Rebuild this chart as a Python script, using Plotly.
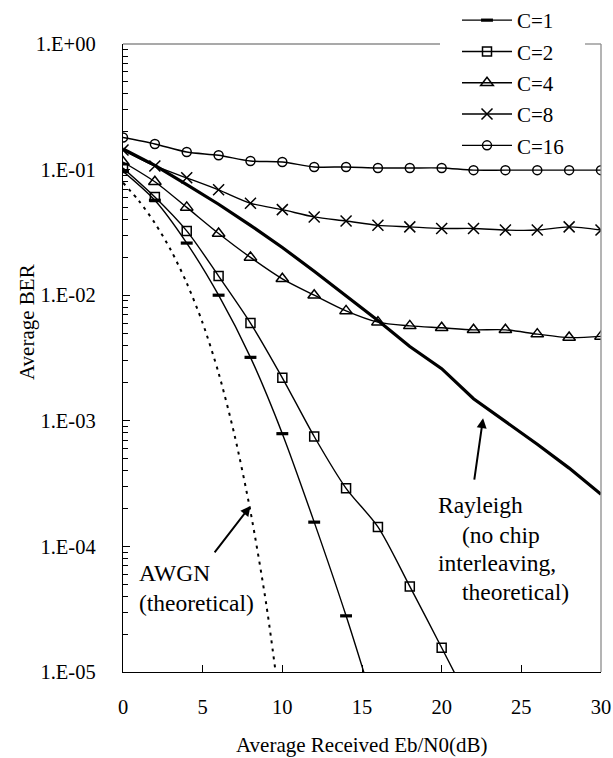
import math
import plotly.graph_objects as go

# ---------------- data ----------------
ebn0 = [0, 2, 4, 6, 8, 10, 12, 14, 16, 18, 20, 22, 24, 26, 28, 30]

c1_x = [0, 2, 4, 6, 8, 10, 12, 14, 16]
c1_ber = [0.097, 0.057, 0.026, 0.010, 0.0032, 7.9e-4, 1.56e-4, 2.8e-5, 4.3e-6]

c2_x = [0, 2, 4, 6, 8, 10, 12, 14, 16, 18, 20, 22]
c2_ber = [0.103, 0.0605, 0.0325, 0.0142, 0.0060, 0.0022, 7.5e-4, 2.9e-4,
          1.43e-4, 4.8e-5, 1.56e-5, 5.0e-6]

c4_ber = [0.115, 0.080, 0.050, 0.031, 0.020, 0.0135, 0.010, 0.0075, 0.0061,
          0.0057, 0.0055, 0.0053, 0.0053, 0.0049, 0.0046, 0.0047]

c8_ber = [0.143, 0.107, 0.086, 0.069, 0.054, 0.048, 0.042, 0.039, 0.036,
          0.035, 0.034, 0.034, 0.033, 0.033, 0.035, 0.033]

c16_ber = [0.180, 0.160, 0.138, 0.130, 0.117, 0.115, 0.105, 0.105, 0.103,
           0.103, 0.103, 0.099, 0.099, 0.099, 0.099, 0.099]

ray_x = [0, 2, 4, 6, 8, 10, 12, 14, 16, 18, 19, 20, 22, 24, 26, 28, 30]
ray_ber = [0.146, 0.108, 0.076, 0.053, 0.036, 0.024, 0.0155, 0.0098, 0.0063,
           0.0039, 0.0032, 0.0026, 0.0015, 9.9e-4, 6.5e-4, 4.2e-4, 2.6e-4]

awgn_x = [0, 1, 2, 3, 4, 5, 6, 7, 8, 9, 10]
awgn_ber = [0.0786, 0.0563, 0.0375, 0.0229, 0.0125, 0.0060, 0.0024, 7.7e-4,
            1.9e-4, 3.4e-5, 3.9e-6]

ytick_vals = [1, 1e-1, 1e-2, 1e-3, 1e-4, 1e-5]
ytick_text = ["1.E+00", "1.E-01", "1.E-02", "1.E-03", "1.E-04", "1.E-05"]
xtick_vals = [0, 5, 10, 15, 20, 25, 30]

# annotation anchors (data units)
awgn_tip = (8.0, 2.1e-4)
ray_tip = (22.6, 1.05e-3)

FONT = "'Liberation Serif', 'Times New Roman', serif"
W, H = 613, 758
X0, X1, Y0, Y1 = 123, 601, 44, 672  # plot area in page pixels
L, R, T, B = X0, W - X1, Y0, H - Y1
PW, PH = X1 - X0, Y1 - Y0


def px(x):
    return (x - X0) / PW


def py(y):
    return (Y1 - y) / PH


fig = go.Figure()

line_thin = dict(color="black", width=1.4, shape="spline", smoothing=0.8)
mline = dict(color="black", width=1.5)

fig.add_trace(go.Scatter(x=awgn_x, y=awgn_ber, mode="lines", showlegend=False,
                         line=dict(color="black", width=2, dash="3px,5px",
                                   shape="spline", smoothing=0.8)))
fig.add_trace(go.Scatter(x=ray_x, y=ray_ber, mode="lines", showlegend=False,
                         line=dict(color="black", width=3.2)))

fig.add_trace(go.Scatter(x=c1_x, y=c1_ber, mode="lines+markers", name="C=1",
                         line=line_thin, legendgroup="1",
                         marker=dict(symbol="line-ew-open", size=8.5,
                                     line=dict(color="black", width=3.2))))
fig.add_trace(go.Scatter(x=c2_x, y=c2_ber, mode="lines+markers", name="C=2",
                         line=line_thin, legendgroup="2",
                         marker=dict(symbol="square-open", size=9, color="black",
                                     line=mline)))
fig.add_trace(go.Scatter(x=ebn0, y=c4_ber, mode="lines+markers", name="C=4",
                         line=line_thin, legendgroup="4",
                         marker=dict(symbol="triangle-up-open", size=11, color="black",
                                     line=mline)))
fig.add_trace(go.Scatter(x=ebn0, y=c8_ber, mode="lines+markers", name="C=8",
                         line=line_thin, legendgroup="8",
                         marker=dict(symbol="x-thin-open", size=11, color="black",
                                     line=mline)))
fig.add_trace(go.Scatter(x=ebn0, y=c16_ber, mode="lines+markers", name="C=16",
                         line=line_thin, legendgroup="16",
                         marker=dict(symbol="circle-open", size=9, color="black",
                                     line=mline)))

ann = []
# axis titles
ann.append(dict(text="Average Received Eb/N0(dB)", x=px(362), y=py(745),
                xref="paper", yref="paper", showarrow=False,
                xanchor="center", yanchor="middle", font=dict(size=21)))
ann.append(dict(text="Average BER", x=px(27), y=py(322), xref="paper", yref="paper",
                showarrow=False, textangle=-90, xanchor="center", yanchor="middle",
                font=dict(size=21)))
# text labels
for txt, xl, yc in [("AWGN", 137, 573), ("(theoretical)", 137, 603),
                    ("Rayleigh", 436, 505), ("(no chip", 460, 535),
                    ("interleaving,", 436, 563), ("theoretical)", 460, 592)]:
    ann.append(dict(text=txt, x=px(xl), y=py(yc), xref="paper", yref="paper",
                    showarrow=False, xanchor="left", yanchor="middle",
                    font=dict(size=23.5)))
# arrows
ann.append(dict(text="", x=awgn_tip[0], y=math.log10(awgn_tip[1]), xref="x", yref="y",
                showarrow=True, ax=-37, ay=48, arrowhead=2, arrowsize=1,
                arrowwidth=2, arrowcolor="black"))
ann.append(dict(text="", x=ray_tip[0], y=math.log10(ray_tip[1]), xref="x", yref="y",
                showarrow=True, ax=-9, ay=63, arrowhead=2, arrowsize=1,
                arrowwidth=2, arrowcolor="black"))

gray = "#8c8c8c"
shapes = [
    dict(type="line", xref="paper", yref="paper", x0=0, x1=px(440), y0=1, y1=1,
         line=dict(color=gray, width=1.3)),
    dict(type="line", xref="paper", yref="paper", x0=px(585), x1=1, y0=1, y1=1,
         line=dict(color=gray, width=1.3)),
    dict(type="line", xref="paper", yref="paper", x0=1, x1=1, y0=0, y1=1,
         line=dict(color=gray, width=1.3)),
]

fig.update_layout(
    width=W, height=H,
    margin=dict(l=L, r=R, t=T, b=B, pad=0, autoexpand=False),
    paper_bgcolor="white", plot_bgcolor="white",
    font=dict(family=FONT, size=20.5, color="black"),
    annotations=ann, shapes=shapes,
    legend=dict(x=px(457), y=py(0), xanchor="left", yanchor="top",
                bgcolor="rgba(255,255,255,0)", borderwidth=0,
                font=dict(size=21), itemwidth=50, tracegroupgap=1,
                traceorder="grouped"),
    xaxis=dict(range=[0, 30], tickvals=xtick_vals, ticks="inside", ticklen=7,
               tickwidth=1, tickcolor="black", showline=True, linecolor="black",
               linewidth=1.4, mirror=False, showgrid=False, zeroline=False,
               ticklabelstandoff=16, automargin=False),
    yaxis=dict(type="log", range=[-5, 0], tickvals=ytick_vals, ticktext=ytick_text,
               ticks="inside", ticklen=7, tickwidth=1, tickcolor="black",
               showline=True, linecolor="black", linewidth=1.4, mirror=False,
               showgrid=False, zeroline=False, ticklabelstandoff=22, automargin=False,
               minor=dict(ticks="inside", ticklen=5, tickcolor="black",
                          tickwidth=1, dtick="D1", showgrid=False)),
)

fig.write_html(
    "out.html",
    config={"displayModeBar": False},
    post_script="document.body.style.margin='0';document.body.style.overflow='hidden';",
)
